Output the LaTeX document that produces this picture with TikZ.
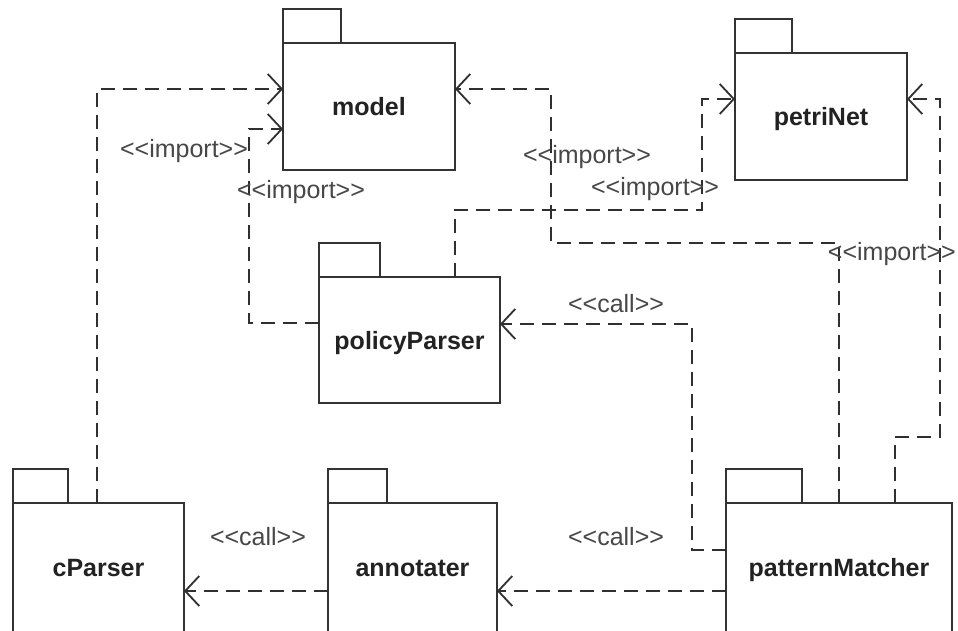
\documentclass[tikz,border=0pt]{standalone}
\usepackage{fontspec}
\newfontfamily\diagfont{Liberation Sans}
\usetikzlibrary{arrows.meta}
\definecolor{boxline}{HTML}{333333}
\definecolor{depline}{HTML}{303030}
\definecolor{namecol}{HTML}{222222}
\definecolor{lblcol}{HTML}{474747}
\begin{document}
\begin{tikzpicture}[x=1pt,y=-1pt,
  pkg/.style={draw=boxline, line width=1.8pt, fill=white, inner sep=0pt, outer sep=0pt,
    font=\diagfont\fontsize{25}{30}\selectfont\bfseries, text=namecol,
    text height=18pt, text depth=0pt},
  pkgtab/.style={draw=boxline, line width=1.8pt, fill=white, inner sep=0pt, outer sep=0pt,
    minimum height=34pt, anchor=south west},
  dep/.style={draw=depline, line width=1.8pt, dash pattern=on 14pt off 8pt,
    -{Straight Barb[length=14pt,width=30pt]}},
  lbl/.style={font=\diagfont\fontsize{25}{30}\selectfont, text=lblcol, inner sep=0pt, anchor=base}]
\useasboundingbox[fill=white] (0,0) rectangle (958,630);

% packages
\node[pkg, minimum width=172pt, minimum height=127pt] (model) at (369,106.5) {model};
\node[pkgtab, minimum width=58pt] (modeltab) at (model.north west) {};
\node[pkg, minimum width=172pt, minimum height=127pt] (petri) at (821,116.5) {petriNet};
\node[pkgtab, minimum width=57pt] (petritab) at (petri.north west) {};
\node[pkg, minimum width=181pt, minimum height=126pt] (policy) at (409.5,340) {policyParser};
\node[pkgtab, minimum width=61pt] (policytab) at (policy.north west) {};
\node[pkg, minimum width=171pt, minimum height=129pt] (cparser) at (98.5,567.5) {cParser};
\node[pkgtab, minimum width=55pt] (cparsertab) at (cparser.north west) {};
\node[pkg, minimum width=169pt, minimum height=129pt] (annot) at (412.5,567.5) {annotater};
\node[pkgtab, minimum width=59pt] (annottab) at (annot.north west) {};
\node[pkg, minimum width=226pt, minimum height=129pt] (pm) at (839,567.5) {patternMatcher};
\node[pkgtab, minimum width=76pt] (pmtab) at (pm.north west) {};

% dependencies
\draw[dep] (97,0 |- cparser.north) |- (model.west |- 0,89);
\draw[dep] (policy.west |- 0,323) -| (249,129) -- (model.west |- 0,129);
\draw[dep] (455,0 |- policy.north) -- (455,210) -| (702,99) -- (petri.west |- 0,99);
\draw[dep] (839,0 |- pm.north) -- (839,243) -| (551,89) -- (model.east |- 0,89);
\draw[dep] (895,0 |- pm.north) -- (895,437) -| (940,99) -- (petri.east |- 0,99);
\draw[dep] (pm.west |- 0,550) -| (692,324) -- (policy.east |- 0,324);
\draw[dep] (pm.west |- 0,591) -- (annot.east |- 0,591);
\draw[dep] (annot.west |- 0,591) -- (cparser.east |- 0,591);

% labels
\node[lbl] (l1) at (184,157) {<<import>>};
\node[lbl] (l2) at (301,198) {<<import>>};
\node[lbl] (l3) at (655,195) {<<import>>};
\node[lbl] (l4) at (587,163) {<<import>>};
\node[lbl, anchor=base east] (l5) at (956,260) {<<import>>};
\node[lbl] (l6) at (616,312) {<<call>>};
\node[lbl] (l7) at (616,545) {<<call>>};
\node[lbl] (l8) at (258,545) {<<call>>};
\end{tikzpicture}
\end{document}
